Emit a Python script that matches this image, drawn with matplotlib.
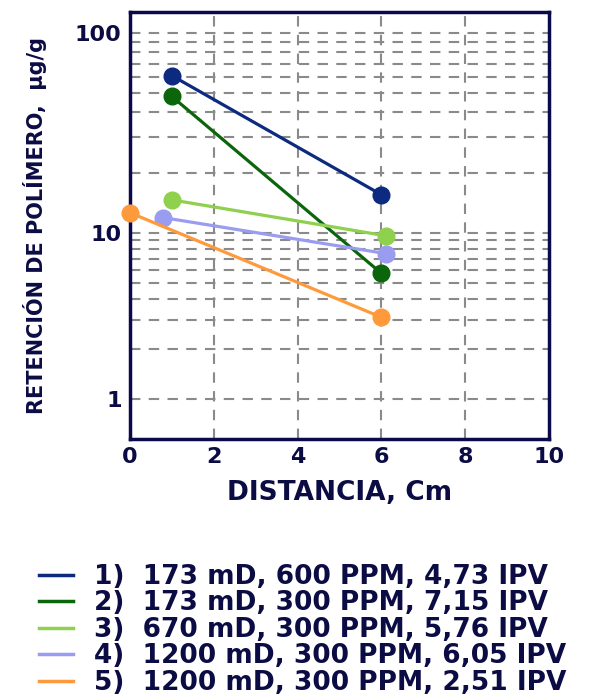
import numpy as np
import matplotlib.pyplot as plt
from matplotlib.lines import Line2D

plt.rcParams['font.family'] = ['DejaVu Sans']
plt.rcParams['font.weight'] = 'bold'

# datos
distancia_ini = [1, 1, 1, 0.8, 0]
distancia_fin = [6, 6, 6.1, 6.1, 6]
ret_ini = [61, 48, 14.6, 11.9, 12.6]
ret_fin = [15.5, 5.7, 9.6, 7.5, 3.1]
etiquetas = ['1)  173 mD, 600 PPM, 4,73 IPV',
             '2)  173 mD, 300 PPM, 7,15 IPV',
             '3)  670 mD, 300 PPM, 5,76 IPV',
             '4)  1200 mD, 300 PPM, 6,05 IPV',
             '5)  1200 mD, 300 PPM, 2,51 IPV']
colores = ['#0b2a80', '#0b660b', '#8fd14f', '#9a9cf0', '#ff9a3c']
xticks = [0, 2, 4, 6, 8, 10]
yticks = [1, 10, 100]

texto = '#0c0c45'


# escala log "a mano": la decada 1-10 es mas corta que la 10-100
def fwd(y):
    y = np.maximum(np.asarray(y, dtype=float), 1e-6)
    l = np.log10(y)
    return np.where(l <= 1, l * 166, 166 + (l - 1) * 200)


def inv(v):
    v = np.asarray(v, dtype=float)
    return np.where(v <= 166, 10 ** (v / 166), 10 ** (1 + (v - 166) / 200))


fig = plt.figure(figsize=(6.1, 7.0), dpi=100)
ax = fig.add_axes([0.213, 0.373, 0.687, 0.61])
ax.set_yscale('function', functions=(fwd, inv))

for i in range(5):
    ax.plot([distancia_ini[i], distancia_fin[i]], [ret_ini[i], ret_fin[i]],
            color=colores[i], lw=2.3, marker='o', ms=12, clip_on=False, zorder=3)

ax.set_xlim(0, 10)
ax.set_ylim(0.574, 127)
ax.set_xticks(xticks)
ax.set_xticklabels([str(t) for t in xticks])
ax.set_yticks(yticks)
ax.set_yticklabels([str(t) for t in yticks])
menores = [m * d for d in (1, 10) for m in range(2, 10)]
ax.set_yticks(menores, minor=True)
ax.tick_params(which='both', length=0, labelsize=16, labelcolor=texto, pad=6)
for lab in ax.get_xticklabels() + ax.get_yticklabels():
    lab.set_fontweight('bold')

for v in [2, 4, 6, 8]:
    ax.axvline(v, color='#8a8a8a', lw=1.5, ls=(0, (5, 4)), zorder=1)
for v in yticks + menores:
    ax.axhline(v, color='#8a8a8a', lw=1.5, ls=(0, (5, 4)), zorder=1)

for s in ax.spines.values():
    s.set_color('#0a0a4a')
    s.set_linewidth(2.5)

ax.set_xlabel('DISTANCIA, Cm', fontsize=19, fontweight='bold', color=texto, labelpad=9)
ax.set_ylabel('RETENCIÓN DE POLÍMERO,  µg/g', fontsize=15, fontweight='bold',
              color=texto, labelpad=20)

handles = [Line2D([0], [0], color=c, lw=2.5) for c in colores]
fig.legend(handles, etiquetas, loc='lower left', bbox_to_anchor=(0.025, -0.028),
           frameon=False, labelspacing=0.02, handlelength=1.3,
           handletextpad=0.8, labelcolor=texto,
           prop={'size': 19, 'weight': 'bold'})

fig.savefig('out.png', dpi=100)
